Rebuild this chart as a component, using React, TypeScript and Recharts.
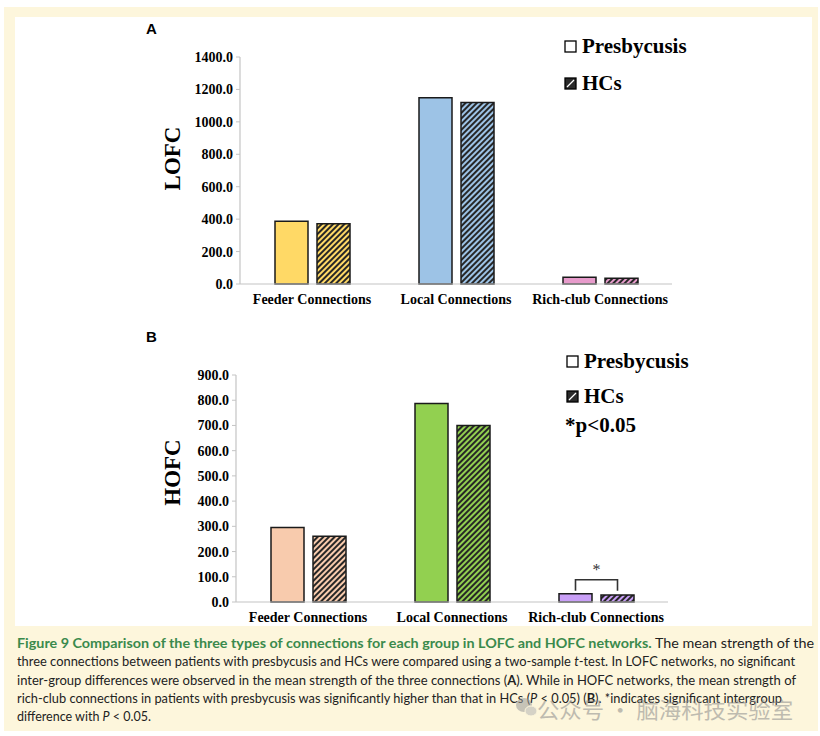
import { BarChart, Bar, XAxis, YAxis, Cell, LabelList } from 'recharts'

// values
const categories = ['Feeder Connections', 'Local Connections', 'Rich-club Connections']
const lofcPresbycusis = [387, 1149, 41]
const lofcHCs = [371, 1120, 35]
const hofcPresbycusis = [295, 787, 33]
const hofcHCs = [261, 700, 28]
const lofcTicks = [0, 200, 400, 600, 800, 1000, 1200, 1400]
const hofcTicks = [0, 100, 200, 300, 400, 500, 600, 700, 800, 900]

const COLORS_A = ['#ffd966', '#9dc3e6', '#e79bcb']
const COLORS_B = ['#f8cbad', '#92d050', '#c99ff7']

const SERIF = "'Liberation Serif', 'Times New Roman', serif"
const AXIS_GRAY = '#c4c4c4'
const BAR_GAP = 9

const dataA = categories.map((name, i) => ({ name, presbycusis: lofcPresbycusis[i], hcs: lofcHCs[i] }))
const dataB = categories.map((name, i) => ({ name, presbycusis: hofcPresbycusis[i], hcs: hofcHCs[i] }))

function Hatch({ id, color }: { id: string; color: string }) {
    return (
        <pattern id={id} width={4} height={4} patternUnits="userSpaceOnUse" patternTransform="rotate(45)">
            <rect width={4} height={4} fill={color} />
            <line x1={2} y1={0} x2={2} y2={4} stroke="#262626" strokeWidth={2} />
        </pattern>
    )
}

function AxisTitle({ viewBox, text, shift }: any) {
    const x = 172
    const y = viewBox.y + viewBox.height / 2 + shift
    return (
        <text x={x} y={y} transform={`rotate(-90, ${x}, ${y})`} textAnchor="middle" dominantBaseline="central"
            style={{ fontFamily: SERIF, fontWeight: 'bold', fontSize: 23, fill: '#000' }}>
            {text}
        </text>
    )
}

// bracket + star over the rich-club pair (drawn from the presbycusis bar's geometry)
function SigBracket(props: any) {
    if (props.index !== 2) return null
    const vb = props.viewBox || props
    const x = vb.x, y = vb.y, w = vb.width
    const cx1 = x + w / 2
    const cx2 = cx1 + w + BAR_GAP
    const top = y - 14
    return (
        <g>
            <path d={`M${cx1},${y - 3} V${top} H${cx2} V${y - 3}`} fill="none" stroke="#333" strokeWidth={1.6} />
            <text x={(cx1 + cx2) / 2} y={top - 10} textAnchor="middle" dominantBaseline="central"
                style={{ fontFamily: SERIF, fontSize: 16, fill: '#333' }}>*</text>
        </g>
    )
}

function Panel({ data, ticks, max, colors, prefix, title, titleShift, axisX, right, top, withSig }: any) {
    return (
        <BarChart width={700} height={320} data={data}
            margin={{ top, right, bottom: 320 - 30 - (top + 227), left: 0 }}
            barGap={BAR_GAP} barCategoryGap={35}>
            <XAxis dataKey="name" axisLine={{ stroke: AXIS_GRAY, strokeWidth: 1.2 }} tickLine={false}
                tickSize={0} tickMargin={10} interval={0} height={30}
                tick={{ fill: '#000', fontSize: 14, fontWeight: 'bold', fontFamily: SERIF }} />
            <YAxis width={axisX} domain={[0, max]} ticks={ticks} interval={0}
                tickFormatter={(v: number) => v.toFixed(1)}
                axisLine={{ stroke: AXIS_GRAY, strokeWidth: 1.2 }} tickLine={{ stroke: AXIS_GRAY }}
                tickSize={4} tickMargin={3}
                tick={{ fill: '#000', fontSize: 14, fontWeight: 'bold', fontFamily: SERIF }}
                label={(p: any) => <AxisTitle {...p} text={title} shift={titleShift} />} />
            <Bar dataKey="presbycusis" stroke="#1a1a1a" strokeWidth={1.5} isAnimationActive={false}>
                {data.map((_: any, i: number) => <Cell key={i} fill={colors[i]} />)}
                {withSig && <LabelList dataKey="presbycusis" content={SigBracket} />}
            </Bar>
            <Bar dataKey="hcs" stroke="#1a1a1a" strokeWidth={1.5} isAnimationActive={false}>
                {data.map((_: any, i: number) => <Cell key={i} fill={`url(#${prefix}-${i})`} />)}
            </Bar>
        </BarChart>
    )
}

function LegendBlock({ x, y1, y2, note }: { x: number; y1: number; y2: number; note?: number }) {
    const txt = { fontFamily: SERIF, fontWeight: 'bold' as const, fontSize: 21, fill: '#000' }
    return (
        <g>
            <rect x={x} y={y1 - 5} width={11} height={11} fill="#fff" stroke="#000" strokeWidth={1.3} />
            <text x={x + 17} y={y1} dominantBaseline="central" style={txt}>Presbycusis</text>
            <rect x={x} y={y2 - 5} width={11} height={11} fill="#2a2a2a" stroke="#000" strokeWidth={1.3} />
            <line x1={x + 2} y1={y2 + 4} x2={x + 9} y2={y2 - 3} stroke="#fff" strokeWidth={1.3} />
            <text x={x + 17} y={y2} dominantBaseline="central" style={txt}>HCs</text>
            {note !== undefined && <text x={x - 2} y={note} dominantBaseline="central" style={txt}>*p&lt;0.05</text>}
        </g>
    )
}

const CAP = { fontFamily: "Lato, 'Open Sans', sans-serif", fontSize: 13, fill: '#222' }

export default function App() {
    return (
        <div style={{ position: 'absolute', left: 0, top: 0, width: 820, height: 736, background: '#fff' }}>
            <svg width={820} height={736} style={{ position: 'absolute', left: 0, top: 0 }}>
                <defs>
                    {COLORS_A.map((c, i) => <Hatch key={'a' + i} id={`hatchA-${i}`} color={c} />)}
                    {COLORS_B.map((c, i) => <Hatch key={'b' + i} id={`hatchB-${i}`} color={c} />)}
                </defs>
                <rect x={4} y={7} width={814} height={724} fill="#fdf6dc" />
                <rect x={15} y={17} width={797} height={609} fill="#fff" />
                <text x={146} y={34} style={{ fontFamily: "'Liberation Sans', Arial, sans-serif", fontWeight: 'bold', fontSize: 15 }}>A</text>
                <text x={146} y={342} style={{ fontFamily: "'Liberation Sans', Arial, sans-serif", fontWeight: 'bold', fontSize: 15 }}>B</text>
                <LegendBlock x={565} y1={46} y2={83} />
                <LegendBlock x={567} y1={361} y2={396} note={425} />

                <text x={17} y={648} textLength={797} lengthAdjust="spacingAndGlyphs" style={CAP}>
                    <tspan style={{ fontWeight: 'bold', fill: '#3a8a4c' }}>Figure 9 Comparison of the three types of connections for each group in LOFC and HOFC networks.</tspan>
                    <tspan> The mean strength of the</tspan>
                </text>
                <text x={17} y={666} textLength={778} lengthAdjust="spacingAndGlyphs" style={CAP}>
                    three connections between patients with presbycusis and HCs were compared using a two-sample <tspan fontStyle="italic">t</tspan>-test. In LOFC networks, no significant
                </text>
                <text x={17} y={684.5} textLength={779} lengthAdjust="spacingAndGlyphs" style={CAP}>
                    inter-group differences were observed in the mean strength of the three connections (<tspan fontWeight="bold">A</tspan>). While in HOFC networks, the mean strength of
                </text>
                <text x={17} y={702.5} textLength={765} lengthAdjust="spacingAndGlyphs" style={CAP}>
                    rich-club connections in patients with presbycusis was significantly higher than that in HCs (<tspan fontStyle="italic">P</tspan> &lt; 0.05) (<tspan fontWeight="bold">B</tspan>). *indicates significant intergroup
                </text>
                <text x={17} y={720.5} textLength={134} lengthAdjust="spacingAndGlyphs" style={CAP}>
                    difference with <tspan fontStyle="italic">P</tspan> &lt; 0.05.
                </text>

                {/* watermark */}
                <g opacity={0.55}>
                    <ellipse cx={524} cy={705} rx={8} ry={7} fill="#9a9a9a" />
                    <ellipse cx={531} cy={711} rx={6} ry={5} fill="#b5b5b5" stroke="#fdf6dc" strokeWidth={1} />
                    <text x={537} y={708} dominantBaseline="central" textLength={256} lengthAdjust="spacingAndGlyphs"
                        style={{ fontFamily: "'Noto Sans CJK SC', sans-serif", fontSize: 22, fill: '#8c8c8c' }}>
                        公众号 · 脑海科技实验室
                    </text>
                </g>
            </svg>

            <div style={{ position: 'absolute', left: 0, top: 0 }}>
                <Panel data={dataA} ticks={lofcTicks} max={1400} colors={COLORS_A} prefix="hatchA"
                    title="LOFC" titleShift={-12} axisX={240} right={28} top={57} />
            </div>
            <div style={{ position: 'absolute', left: 0, top: 320 }}>
                <Panel data={dataB} ticks={hofcTicks} max={900} colors={COLORS_B} prefix="hatchB"
                    title="HOFC" titleShift={-16} axisX={236} right={32} top={55} withSig />
            </div>
        </div>
    )
}
